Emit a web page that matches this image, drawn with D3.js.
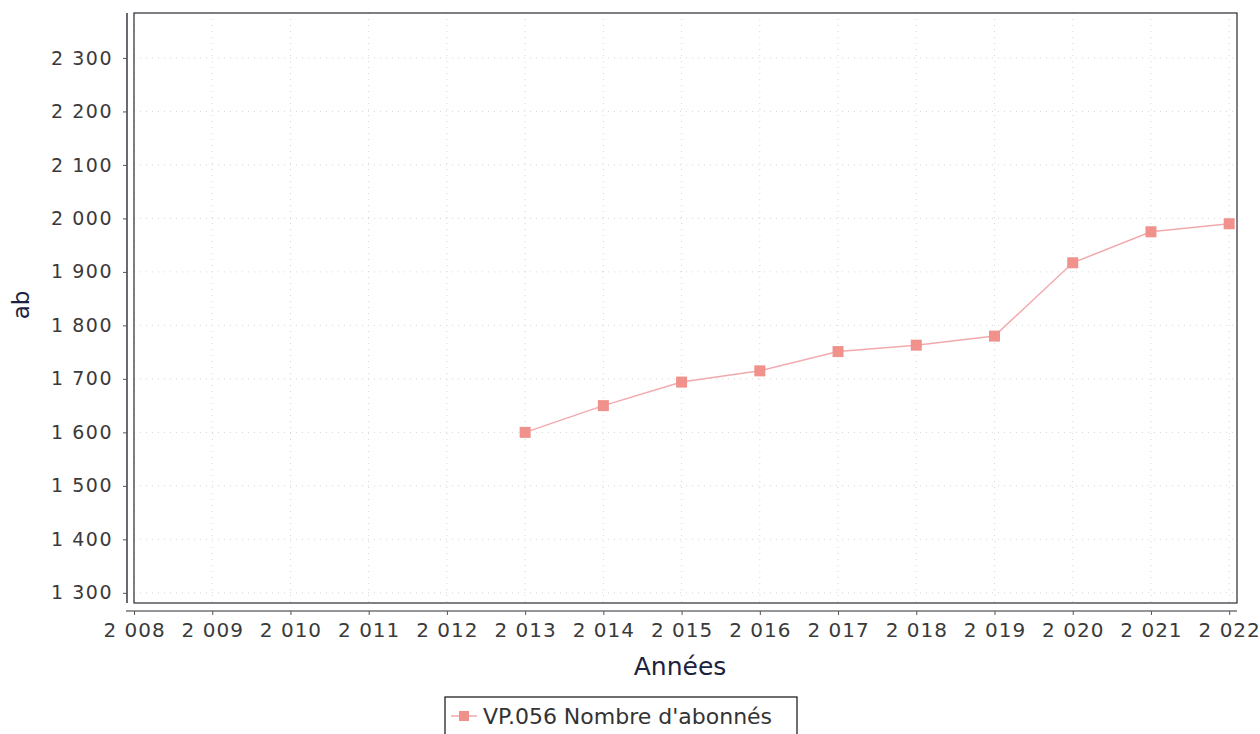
<!DOCTYPE html>
<html>
<head>
<meta charset="utf-8">
<script src="https://cdn.jsdelivr.net/npm/d3@7"></script>
<style>
  body { margin: 0; background: #fff; }
  text { font-family: "DejaVu Sans", sans-serif; }
</style>
</head>
<body>
<script>
// data
const years = [2013, 2014, 2015, 2016, 2017, 2018, 2019, 2020, 2021, 2022];
const subscribers = [1600, 1650, 1694, 1715, 1751, 1763, 1780, 1917, 1975, 1990];
const xTicks = [2008, 2009, 2010, 2011, 2012, 2013, 2014, 2015, 2016, 2017, 2018, 2019, 2020, 2021, 2022];
const yTicks = [1300, 1400, 1500, 1600, 1700, 1800, 1900, 2000, 2100, 2200, 2300];
const seriesName = "VP.056 Nombre d'abonnés";
const xTitle = "Années";
const yTitle = "ab";

const W = 1260, H = 734;
const plot = { left: 134, right: 1237, top: 13, bottom: 603 };

const svg = d3.select("body").append("svg")
    .attr("width", W)
    .attr("height", H);

// french style grouping: "2 008"
const fr = d3.formatLocale({ decimal: ",", thousands: " ", grouping: [3], currency: ["", ""] });
const fmt = fr.format(",d");

const x = d3.scaleLinear().domain([2008, 2022.1]).range([plot.left, plot.right]);
const y = d3.scaleLinear().domain([1281, 2384]).range([plot.bottom, plot.top]);

// faint dotted grid
const grid = svg.append("g");
grid.selectAll("line.gx").data(xTicks).join("line")
    .attr("x1", d => x(d)).attr("x2", d => x(d))
    .attr("y1", plot.top).attr("y2", plot.bottom)
    .attr("stroke", "#d6d6d6").attr("stroke-dasharray", "1,5");
grid.selectAll("line.gy").data(yTicks).join("line")
    .attr("y1", d => y(d)).attr("y2", d => y(d))
    .attr("x1", plot.left).attr("x2", plot.right)
    .attr("stroke", "#d6d6d6").attr("stroke-dasharray", "1,5");

// plot outline
svg.append("rect")
    .attr("x", plot.left).attr("y", plot.top)
    .attr("width", plot.right - plot.left).attr("height", plot.bottom - plot.top)
    .attr("fill", "none").attr("stroke", "#2a2a35").attr("stroke-width", 1.2);

// axes, offset from the plot like the original
const xAxis = d3.axisBottom(x).tickValues(xTicks).tickFormat(fmt).tickSize(4).tickPadding(8);
const gx = svg.append("g").attr("transform", `translate(0,611)`).call(xAxis);
gx.select(".domain").attr("d", `M126,0H${plot.right}`).attr("stroke", "#2a2a35");
gx.selectAll(".tick line").attr("stroke", "#555");
gx.selectAll(".tick text")
    .attr("font-size", 20).attr("letter-spacing", 1).attr("fill", "#3a3a3a")
    .attr("font-family", "DejaVu Sans");

const yAxis = d3.axisLeft(y).tickValues(yTicks).tickFormat(fmt).tickSize(4).tickPadding(10);
const gy = svg.append("g").attr("transform", `translate(127,0)`).call(yAxis);
gy.select(".domain").attr("d", `M0,${plot.top}V${plot.bottom}`).attr("stroke", "#2a2a35").attr("stroke-width", 1.4);
gy.selectAll(".tick line").attr("stroke", "#555");
gy.selectAll(".tick text")
    .attr("font-size", 19).attr("letter-spacing", 1.5).attr("fill", "#3a3a3a")
    .attr("font-family", "DejaVu Sans");

// axis titles
svg.append("text")
    .attr("x", 680).attr("y", 675)
    .attr("text-anchor", "middle")
    .attr("font-size", 25).attr("fill", "#1c2340")
    .text(xTitle);

svg.append("text")
    .attr("transform", "translate(29,305) rotate(-90)")
    .attr("text-anchor", "middle")
    .attr("font-size", 23).attr("fill", "#1c2340")
    .text(yTitle);

// series
const pts = years.map((yr, i) => ({ yr, v: subscribers[i] }));
const line = d3.line().x(d => x(d.yr)).y(d => y(d.v));

svg.append("path")
    .datum(pts)
    .attr("d", line)
    .attr("fill", "none")
    .attr("stroke", "#f2a9ad")
    .attr("stroke-width", 1.5);

svg.selectAll("rect.pt").data(pts).join("rect")
    .attr("class", "pt")
    .attr("x", d => x(d.yr) - 5.5).attr("y", d => y(d.v) - 5.5)
    .attr("width", 11).attr("height", 11)
    .attr("fill", "#f0918c");

// legend
const lg = svg.append("g").attr("transform", "translate(445,697)");
lg.append("rect")
    .attr("width", 352).attr("height", 45)
    .attr("fill", "#fff").attr("stroke", "#222").attr("stroke-width", 1.3);
lg.append("line")
    .attr("x1", 6).attr("x2", 32).attr("y1", 19).attr("y2", 19)
    .attr("stroke", "#f2a9ad").attr("stroke-width", 1.5);
lg.append("rect")
    .attr("x", 14).attr("y", 14).attr("width", 10).attr("height", 10)
    .attr("fill", "#f0918c");
lg.append("text")
    .attr("x", 38).attr("y", 27)
    .attr("font-size", 22).attr("fill", "#333")
    .text(seriesName);
</script>
</body>
</html>
